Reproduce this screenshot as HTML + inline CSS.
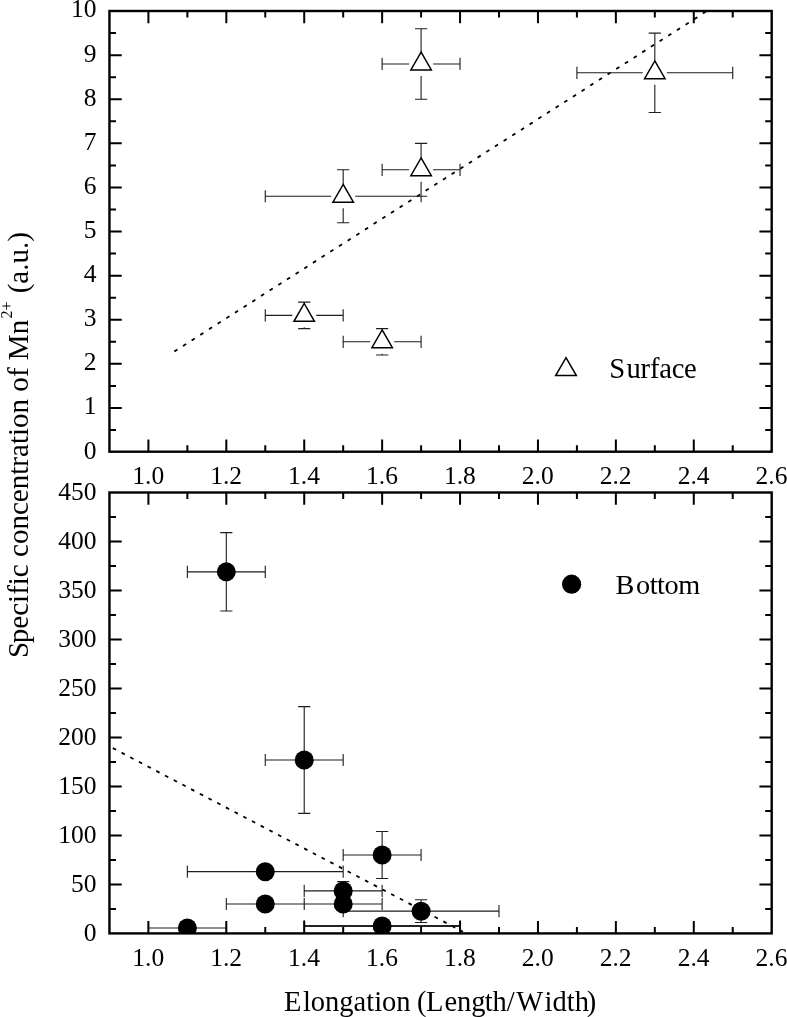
<!DOCTYPE html>
<html><head><meta charset="utf-8"><title>Chart</title>
<style>html,body{margin:0;padding:0;background:#fff}svg{display:block;will-change:transform;filter:grayscale(1)}text{font-family:"Liberation Serif",serif;fill:#000;font-kerning:none}</style>
</head><body>
<svg width="787" height="1017" viewBox="0 0 787 1017">
<rect width="787" height="1017" fill="#fff"/>
<defs><clipPath id="cu"><rect x="109.45" y="11.0" width="662.24" height="440.70"/></clipPath>
<clipPath id="cl"><rect x="109.45" y="492.5" width="662.24" height="440.90"/></clipPath></defs>
<g clip-path="url(#cu)">
<path d="M174.3 351.5L706.5 11.3" stroke="#000" stroke-width="1.8" stroke-dasharray="3.7 6.585" fill="none"/>
<path d="M265.27 315.34H292.22M316.22 315.34H343.18M265.27 309.24v12.2M343.18 309.24v12.2M304.22 302.11V303.34M304.22 327.34V328.57M298.12 302.11h12.2M298.12 328.57h12.2M265.27 196.27H331.18M355.18 196.27H421.09M265.27 190.17v12.2M421.09 190.17v12.2M343.18 169.81V184.27M343.18 208.27V222.73M337.08 169.81h12.2M337.08 222.73h12.2M343.18 341.80H370.14M394.14 341.80H421.09M343.18 335.70v12.2M421.09 335.70v12.2M382.14 328.57V329.80M382.14 353.80V355.03M376.04 328.57h12.2M376.04 355.03h12.2M382.13 169.81H409.09M433.09 169.81H460.05M382.13 163.71v12.2M460.05 163.71v12.2M421.09 143.35V157.81M421.09 181.81V196.27M414.99 143.35h12.2M414.99 196.27h12.2M382.13 63.97H409.09M433.09 63.97H460.05M382.13 57.87v12.2M460.05 57.87v12.2M421.09 28.69V51.97M421.09 75.97V99.25M414.99 28.69h12.2M414.99 99.25h12.2M576.91 72.79H642.82M666.82 72.79H732.73M576.91 66.69v12.2M732.73 66.69v12.2M654.82 33.10V60.79M654.82 84.79V112.48M648.72 33.10h12.2M648.72 112.48h12.2" stroke="#1e1e1e" stroke-width="1.12" fill="none"/>
<path d="M304.22 303.50L314.47 321.26H293.97Z" fill="#fff" stroke="#000" stroke-width="1.5" stroke-linejoin="miter"/>
<path d="M343.18 184.43L353.43 202.19H332.93Z" fill="#fff" stroke="#000" stroke-width="1.5" stroke-linejoin="miter"/>
<path d="M382.14 329.96L392.39 347.72H371.89Z" fill="#fff" stroke="#000" stroke-width="1.5" stroke-linejoin="miter"/>
<path d="M421.09 157.97L431.34 175.73H410.84Z" fill="#fff" stroke="#000" stroke-width="1.5" stroke-linejoin="miter"/>
<path d="M421.09 52.13L431.34 69.89H410.84Z" fill="#fff" stroke="#000" stroke-width="1.5" stroke-linejoin="miter"/>
<path d="M654.82 60.95L665.07 78.71H644.57Z" fill="#fff" stroke="#000" stroke-width="1.5" stroke-linejoin="miter"/>
</g>
<rect x="109.45" y="11.00" width="662.24" height="440.70" fill="none" stroke="#000" stroke-width="2.4"/>
<path d="M148.41 11.00v12.3M148.41 451.70v-12.3M187.36 11.00v6.5M187.36 451.70v-6.5M226.32 11.00v12.3M226.32 451.70v-12.3M265.27 11.00v6.5M265.27 451.70v-6.5M304.22 11.00v12.3M304.22 451.70v-12.3M343.18 11.00v6.5M343.18 451.70v-6.5M382.14 11.00v12.3M382.14 451.70v-12.3M421.09 11.00v6.5M421.09 451.70v-6.5M460.05 11.00v12.3M460.05 451.70v-12.3M499.00 11.00v6.5M499.00 451.70v-6.5M537.96 11.00v12.3M537.96 451.70v-12.3M576.91 11.00v6.5M576.91 451.70v-6.5M615.87 11.00v12.3M615.87 451.70v-12.3M654.82 11.00v6.5M654.82 451.70v-6.5M693.78 11.00v12.3M693.78 451.70v-12.3M732.73 11.00v6.5M732.73 451.70v-6.5M109.45 407.95h12.3M771.69 407.95h-12.3M109.45 363.85h12.3M771.69 363.85h-12.3M109.45 319.75h12.3M771.69 319.75h-12.3M109.45 275.65h12.3M771.69 275.65h-12.3M109.45 231.55h12.3M771.69 231.55h-12.3M109.45 187.45h12.3M771.69 187.45h-12.3M109.45 143.35h12.3M771.69 143.35h-12.3M109.45 99.25h12.3M771.69 99.25h-12.3M109.45 55.15h12.3M771.69 55.15h-12.3M109.45 430.00h6.5M771.69 430.00h-6.5M109.45 385.90h6.5M771.69 385.90h-6.5M109.45 341.80h6.5M771.69 341.80h-6.5M109.45 297.70h6.5M771.69 297.70h-6.5M109.45 253.60h6.5M771.69 253.60h-6.5M109.45 209.50h6.5M771.69 209.50h-6.5M109.45 165.40h6.5M771.69 165.40h-6.5M109.45 121.30h6.5M771.69 121.30h-6.5M109.45 77.20h6.5M771.69 77.20h-6.5M109.45 33.10h6.5M771.69 33.10h-6.5" stroke="#000" stroke-width="2.0" fill="none"/>
<path d="M566.00 357.65L576.35 375.58H555.65Z" fill="none" stroke="#000" stroke-width="1.5" stroke-linejoin="miter"/>
<text x="609.2" y="378.3" font-size="28.65">S<tspan dx="1.4" letter-spacing="-0.25">urface</tspan></text>
<g clip-path="url(#cl)">
<path d="M112.8 748.1L463 931.7" stroke="#000" stroke-width="1.8" stroke-dasharray="3.7 6.12" fill="none"/>
<path d="M148.41 928.01H187.36M187.36 928.01H226.32M148.41 921.91v12.2M226.32 921.91v12.2M187.36 571.86H226.31M226.31 571.86H265.27M187.36 565.76v12.2M265.27 565.76v12.2M226.31 532.67V571.86M226.31 571.86V611.05M220.22 532.67h12.2M220.22 611.05h12.2M187.36 871.67H265.27M265.27 871.67H343.18M187.36 865.57v12.2M343.18 865.57v12.2M226.31 904.01H265.27M265.27 904.01H304.23M226.31 897.91v12.2M304.23 897.91v12.2M265.27 759.98H304.22M304.22 759.98H343.18M265.27 753.88v12.2M343.18 753.88v12.2M304.22 706.58V759.98M304.22 759.98V813.38M298.12 706.58h12.2M298.12 813.38h12.2M304.22 890.88H343.18M343.18 890.88H382.14M304.22 884.78v12.2M382.14 884.78v12.2M343.18 881.57V890.88M343.18 890.88V900.19M337.08 881.57h12.2M337.08 900.19h12.2M304.22 904.01H343.18M343.18 904.01H382.14M304.22 897.91v12.2M382.14 897.91v12.2M343.18 855.02H382.14M382.14 855.02H421.09M343.18 848.92v12.2M421.09 848.92v12.2M382.14 831.50V855.02M382.14 855.02V878.53M376.04 831.50h12.2M376.04 878.53h12.2M304.23 926.05H382.14M382.14 926.05H460.05M304.23 919.95v12.2M460.05 919.95v12.2M343.18 911.16H421.09M421.09 911.16H499.00M343.18 905.06v12.2M499.00 905.06v12.2M421.09 899.79V911.16M421.09 911.16V922.52M414.99 899.79h12.2M414.99 922.52h12.2" stroke="#1e1e1e" stroke-width="1.12" fill="none"/>
<path d="M304.22 926.05H460.05" stroke="#000" stroke-width="1.4" fill="none"/>
<circle cx="187.36" cy="928.01" r="9.5" fill="#000"/>
<circle cx="226.31" cy="571.86" r="9.5" fill="#000"/>
<circle cx="265.27" cy="871.67" r="9.5" fill="#000"/>
<circle cx="265.27" cy="904.01" r="9.5" fill="#000"/>
<circle cx="304.22" cy="759.98" r="9.5" fill="#000"/>
<circle cx="343.18" cy="890.88" r="9.5" fill="#000"/>
<circle cx="343.18" cy="904.01" r="9.5" fill="#000"/>
<circle cx="382.14" cy="855.02" r="9.5" fill="#000"/>
<circle cx="382.14" cy="926.05" r="9.5" fill="#000"/>
<circle cx="421.09" cy="911.16" r="9.5" fill="#000"/>
</g>
<rect x="109.45" y="492.50" width="662.24" height="440.90" fill="none" stroke="#000" stroke-width="2.4"/>
<path d="M148.41 492.50v12.3M148.41 933.40v-12.3M187.36 492.50v6.5M187.36 933.40v-6.5M226.32 492.50v12.3M226.32 933.40v-12.3M265.27 492.50v6.5M265.27 933.40v-6.5M304.22 492.50v12.3M304.22 933.40v-12.3M343.18 492.50v6.5M343.18 933.40v-6.5M382.14 492.50v12.3M382.14 933.40v-12.3M421.09 492.50v6.5M421.09 933.40v-6.5M460.05 492.50v12.3M460.05 933.40v-12.3M499.00 492.50v6.5M499.00 933.40v-6.5M537.96 492.50v12.3M537.96 933.40v-12.3M576.91 492.50v6.5M576.91 933.40v-6.5M615.87 492.50v12.3M615.87 933.40v-12.3M654.82 492.50v6.5M654.82 933.40v-6.5M693.78 492.50v12.3M693.78 933.40v-12.3M732.73 492.50v6.5M732.73 933.40v-6.5M109.45 884.41h12.3M771.69 884.41h-12.3M109.45 835.42h12.3M771.69 835.42h-12.3M109.45 786.43h12.3M771.69 786.43h-12.3M109.45 737.44h12.3M771.69 737.44h-12.3M109.45 688.46h12.3M771.69 688.46h-12.3M109.45 639.47h12.3M771.69 639.47h-12.3M109.45 590.48h12.3M771.69 590.48h-12.3M109.45 541.49h12.3M771.69 541.49h-12.3M109.45 908.91h6.5M771.69 908.91h-6.5M109.45 859.92h6.5M771.69 859.92h-6.5M109.45 810.93h6.5M771.69 810.93h-6.5M109.45 761.94h6.5M771.69 761.94h-6.5M109.45 712.95h6.5M771.69 712.95h-6.5M109.45 663.96h6.5M771.69 663.96h-6.5M109.45 614.97h6.5M771.69 614.97h-6.5M109.45 565.98h6.5M771.69 565.98h-6.5M109.45 516.99h6.5M771.69 516.99h-6.5" stroke="#000" stroke-width="2.0" fill="none"/>
<circle cx="571.6" cy="584.2" r="9.6" fill="#000"/>
<text x="615.5" y="593.8" font-size="28.25">B<tspan dx="1.6" letter-spacing="-0.42">ottom</tspan></text>
<g font-size="25.5" text-anchor="end">
<text x="96.5" y="458.55">0</text>
<text x="96.5" y="414.45">1</text>
<text x="96.5" y="370.35">2</text>
<text x="96.5" y="326.25">3</text>
<text x="96.5" y="282.15">4</text>
<text x="96.5" y="238.05">5</text>
<text x="96.5" y="193.95">6</text>
<text x="96.5" y="149.85">7</text>
<text x="96.5" y="105.75">8</text>
<text x="96.5" y="61.65">9</text>
<text x="96.5" y="17.15">10</text>
<text x="96.5" y="940.50">0</text>
<text x="96.5" y="891.51">50</text>
<text x="96.5" y="842.52">100</text>
<text x="96.5" y="793.53">150</text>
<text x="96.5" y="744.54">200</text>
<text x="96.5" y="695.56">250</text>
<text x="96.5" y="646.57">300</text>
<text x="96.5" y="597.58">350</text>
<text x="96.5" y="548.59">400</text>
<text x="96.5" y="499.60">450</text>
</g>
<g font-size="25.5" text-anchor="middle">
<text x="148.21" y="484.3">1.0</text>
<text x="148.21" y="965.8">1.0</text>
<text x="226.12" y="484.3">1.2</text>
<text x="226.12" y="965.8">1.2</text>
<text x="304.02" y="484.3">1.4</text>
<text x="304.02" y="965.8">1.4</text>
<text x="381.94" y="484.3">1.6</text>
<text x="381.94" y="965.8">1.6</text>
<text x="459.85" y="484.3">1.8</text>
<text x="459.85" y="965.8">1.8</text>
<text x="537.75" y="484.3">2.0</text>
<text x="537.75" y="965.8">2.0</text>
<text x="615.67" y="484.3">2.2</text>
<text x="615.67" y="965.8">2.2</text>
<text x="693.58" y="484.3">2.4</text>
<text x="693.58" y="965.8">2.4</text>
<text x="771.49" y="484.3">2.6</text>
<text x="771.49" y="965.8">2.6</text>
</g>
<text x="284" y="1011.3" font-size="28.5">E<tspan dx="1.5">longation</tspan><tspan dx="-0.7"> (</tspan><tspan dx="-0.4">L</tspan><tspan dx="0.9">eng</tspan><tspan dx="-0.9">th/</tspan><tspan dx="1.5">W</tspan><tspan dx="1.4">idth</tspan><tspan dx="-2.2">)</tspan></text>
<text transform="translate(27.6 658.0) rotate(-90)" font-size="29.05">S<tspan dx="-1.4">pecific concentration of Mn</tspan><tspan font-size="16" dy="-16.0" dx="1.3">2+</tspan><tspan dy="16.0" dx="0.9"> (a.u.)</tspan></text>
</svg></body></html>
